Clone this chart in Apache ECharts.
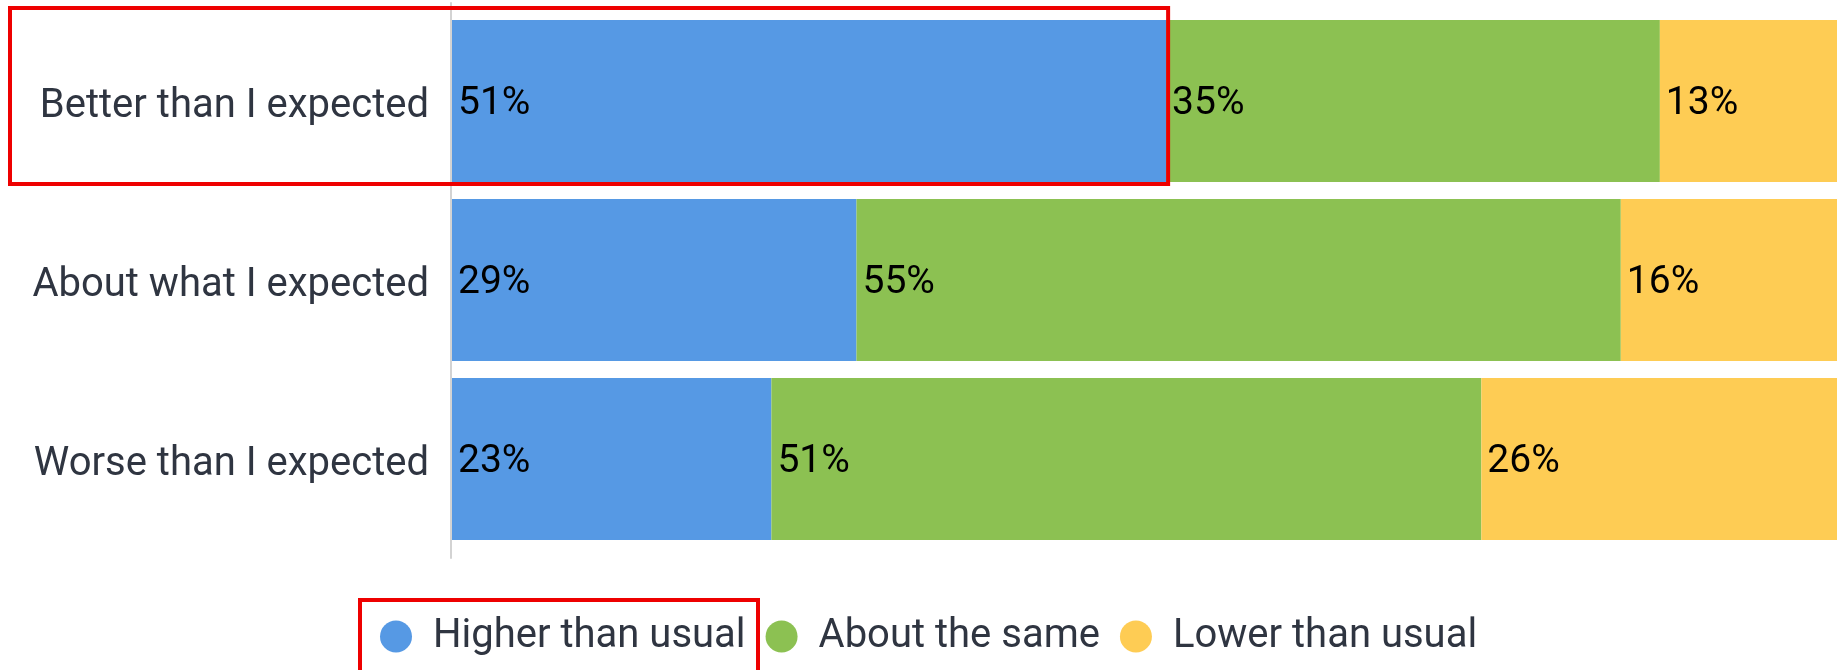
<!DOCTYPE html>
<html>
<head>
<meta charset="utf-8">
<script src="https://cdn.jsdelivr.net/npm/echarts@6/dist/echarts.min.js"></script>
<style>
html,body{margin:0;padding:0;background:#fff;}
#chart{width:1837px;height:670px;}
</style>
</head>
<body>
<div id="chart"></div>
<script>
const categories = ['Better than I expected', 'About what I expected', 'Worse than I expected'];
const seriesNames = ['Higher than usual', 'About the same', 'Lower than usual'];
const higher = [51.2, 29.0, 22.9];
const same = [35.4, 54.8, 50.9];
const lower = [13.4, 16.2, 26.2];
const colors = ['#5699E4', '#8CC152', '#FECC54'];

const FONT = 'Roboto';
const TEXT = '#2f3541';

function mkSeries(name, data, color) {
  return {
    name: name,
    type: 'bar',
    stack: 'total',
    data: data,
    barCategoryGap: '9.5%',
    itemStyle: { color: color },
    emphasis: { disabled: true },
    label: {
      show: true,
      position: 'insideLeft',
      distance: 6,
      offset: [0, 3],
      color: '#000',
      fontFamily: FONT,
      fontSize: 39,
      formatter: p => Math.round(p.value) + '%'
    }
  };
}

const chart = echarts.init(document.getElementById('chart'), null, { renderer: 'canvas' });
chart.setOption({
  animation: false,
  color: colors,
  grid: [
    { left: 452, right: 0, top: 11.5, bottom: 121.5, containLabel: false },
    { left: 451, right: 0, top: 3, bottom: 112, containLabel: false }
  ],
  legend: {
    data: seriesNames,
    left: 375,
    top: 609,
    padding: 5,
    icon: 'circle',
    itemWidth: 32,
    itemHeight: 32,
    itemGap: 20,
    selectedMode: false,
    textStyle: {
      fontFamily: FONT,
      fontSize: 40,
      lineHeight: 40,
      color: TEXT,
      padding: [5, 0, 0, 16]
    }
  },
  xAxis: [
    { type: 'value', gridIndex: 0, min: 0, max: 99.3, show: false },
    { type: 'value', gridIndex: 1, min: 0, max: 99.3, show: false }
  ],
  yAxis: [
    {
      type: 'category',
      gridIndex: 0,
      data: categories,
      inverse: true,
      axisLine: { show: false },
      axisTick: { show: false },
      axisLabel: {
        margin: 23,
        formatter: '{c|{value}}',
        rich: {
          c: {
            fontFamily: FONT,
            fontSize: 40,
            lineHeight: 40,
            color: TEXT,
            padding: [12, 0, 0, 0]
          }
        }
      }
    },
    {
      type: 'category',
      gridIndex: 1,
      data: categories,
      inverse: true,
      axisLine: { show: true, lineStyle: { color: '#d3d3d3', width: 2 } },
      axisTick: { show: false },
      axisLabel: { show: false }
    }
  ],
  series: [
    mkSeries(seriesNames[0], higher, colors[0]),
    mkSeries(seriesNames[1], same, colors[1]),
    mkSeries(seriesNames[2], lower, colors[2])
  ]
});

// Red highlight boxes (annotation overlay)
const yc = chart.convertToPixel({ yAxisIndex: 0 }, categories[0]);
const y1 = chart.convertToPixel({ yAxisIndex: 0 }, categories[1]);
const bw = y1 - yc;
const xEnd = chart.convertToPixel({ xAxisIndex: 0 }, higher[0]);
chart.setOption({
  graphic: [
    {
      type: 'rect',
      shape: { x: 10, y: yc - bw / 2 - 3.5, width: xEnd + 2 - 10, height: bw - 3 },
      style: { fill: 'none', stroke: '#ee0000', lineWidth: 4 },
      silent: true,
      z: 100
    },
    {
      type: 'rect',
      shape: { x: 360, y: 600, width: 398, height: 100 },
      style: { fill: 'none', stroke: '#ee0000', lineWidth: 4 },
      silent: true,
      z: 100
    }
  ]
});
</script>
</body>
</html>
